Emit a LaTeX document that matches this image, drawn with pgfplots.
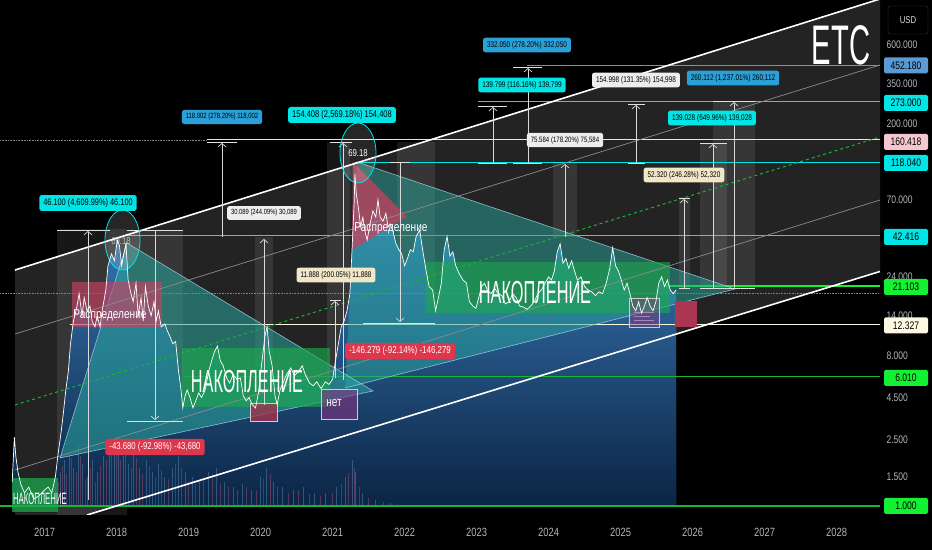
\documentclass[border=0pt]{standalone}
\usepackage{pgfplots}
\pgfplotsset{compat=1.18}
\usepackage{pgfplotstable}
\usepackage{fontspec}
\setmainfont{Liberation Sans}[FakeStretch=0.78]
\usetikzlibrary{arrows.meta,fadings}
\definecolor{bg}{HTML}{000000}
\definecolor{chan}{HTML}{232323}
\definecolor{tickc}{HTML}{B2B5BE}
\definecolor{lcyan}{HTML}{00E5E5}
\definecolor{lblue}{HTML}{2AA0D8}
\definecolor{tagblue}{HTML}{5B9BD5}
\definecolor{lred}{HTML}{E0364C}
\definecolor{lwhite}{HTML}{EDEDED}
\definecolor{lcream}{HTML}{F1E6C8}
\definecolor{tagpink}{HTML}{F6C6CF}
\definecolor{tagcream}{HTML}{FFF9E3}
\definecolor{lgreen}{HTML}{14F032}
\definecolor{dgreen}{HTML}{17B535}
\definecolor{tealc}{HTML}{2AA69C}
\definecolor{gfill}{HTML}{1CA84C}
\definecolor{rfill}{HTML}{C8405F}
\definecolor{areatop}{HTML}{3F86C8}
\definecolor{areabot}{HTML}{061A36}
\definecolor{edge}{HTML}{A8D8E8}
\definecolor{volb}{HTML}{5A8FC0}
\definecolor{volp}{HTML}{B0506E}

\pgfplotstableread{
year price
2016.55 1.40
2016.58 2.60
2016.60 2.00
2016.63 1.60
2016.67 1.35
2016.72 1.20
2016.78 1.30
2016.85 1.10
2016.92 1.15
2017.00 1.25
2017.05 1.30
2017.10 1.20
2017.15 1.50
2017.19 2.10
2017.23 2.80
2017.26 3.60
2017.29 4.80
2017.33 6.50
2017.36 9.50
2017.40 13.0
2017.45 16.0
2017.48 19.0
2017.52 14.0
2017.55 18.0
2017.59 15.0
2017.63 16.0
2017.66 13.0
2017.70 12.0
2017.73 14.0
2017.77 12.0
2017.80 15.0
2017.85 20.0
2017.88 28.0
2017.93 33.0
2017.97 30.0
2018.01 40.0
2018.04 37.0
2018.07 28.0
2018.10 33.0
2018.13 38.0
2018.16 23.0
2018.20 19.0
2018.23 17.0
2018.27 22.0
2018.30 14.0
2018.34 18.0
2018.37 13.0
2018.40 21.0
2018.44 16.0
2018.48 14.0
2018.52 17.0
2018.55 13.0
2018.58 15.0
2018.62 12.0
2018.67 12.5
2018.70 11.5
2018.74 10.5
2018.78 9.5
2018.82 9.8
2018.86 6.5
2018.89 5.2
2018.92 3.9
2018.95 4.6
2018.98 5.0
2019.02 4.5
2019.06 3.9
2019.10 4.3
2019.14 4.8
2019.18 4.5
2019.23 5.0
2019.28 6.5
2019.32 7.5
2019.36 8.5
2019.40 9.2
2019.44 7.5
2019.48 7.0
2019.53 5.9
2019.57 5.5
2019.62 6.2
2019.67 5.8
2019.72 5.9
2019.76 4.6
2019.80 4.3
2019.84 4.5
2019.88 4.1
2019.93 3.9
2019.97 4.8
2020.02 7.5
2020.06 10.5
2020.09 12.0
2020.12 8.5
2020.16 7.0
2020.20 4.6
2020.23 4.1
2020.27 5.0
2020.31 5.5
2020.36 6.2
2020.42 6.8
2020.47 6.1
2020.52 6.4
2020.58 7.0
2020.62 6.2
2020.68 5.5
2020.73 5.3
2020.78 5.6
2020.84 5.1
2020.90 5.6
2020.95 5.4
2021.00 5.8
2021.04 7.5
2021.08 9.5
2021.12 12.0
2021.16 13.0
2021.20 15.0
2021.24 19.0
2021.27 35.0
2021.30 68.0
2021.31 100.0
2021.33 75.0
2021.36 62.0
2021.39 48.0
2021.42 55.0
2021.45 45.0
2021.48 40.0
2021.52 50.0
2021.56 60.0
2021.60 55.0
2021.63 70.0
2021.66 55.0
2021.70 52.0
2021.74 58.0
2021.77 48.0
2021.80 50.0
2021.84 45.0
2021.88 38.0
2021.92 35.0
2021.96 33.0
2022.00 28.0
2022.04 31.0
2022.08 35.0
2022.12 34.0
2022.16 42.0
2022.21 46.0
2022.25 35.0
2022.30 26.0
2022.34 21.0
2022.39 20.0
2022.43 15.0
2022.47 18.0
2022.51 22.0
2022.55 35.0
2022.59 42.0
2022.63 32.0
2022.67 34.0
2022.71 28.0
2022.76 25.0
2022.81 23.0
2022.86 22.0
2022.90 17.0
2022.95 16.0
2022.99 15.5
2023.03 18.0
2023.07 21.0
2023.11 22.0
2023.15 20.0
2023.20 19.0
2023.25 20.5
2023.30 19.0
2023.35 18.5
2023.40 16.5
2023.45 17.0
2023.50 19.0
2023.55 18.0
2023.60 16.0
2023.65 15.8
2023.70 15.3
2023.75 16.0
2023.80 17.0
2023.85 19.0
2023.90 20.0
2023.95 22.0
2024.00 24.0
2024.04 23.0
2024.08 26.0
2024.12 34.0
2024.16 38.0
2024.20 29.0
2024.24 31.0
2024.28 27.0
2024.32 30.0
2024.36 26.0
2024.40 23.0
2024.45 24.0
2024.50 21.0
2024.55 20.0
2024.60 19.5
2024.65 18.5
2024.70 19.5
2024.75 19.0
2024.80 22.0
2024.85 27.0
2024.89 36.0
2024.93 28.0
2024.97 26.0
2025.01 23.0
2025.05 20.0
2025.09 22.0
2025.13 19.0
2025.17 16.0
2025.21 15.0
2025.25 17.0
2025.29 14.5
2025.33 16.0
2025.37 18.0
2025.41 16.0
2025.45 15.0
2025.49 17.0
2025.53 22.0
2025.57 24.0
2025.61 21.0
2025.65 23.0
2025.69 20.0
2025.73 19.0
2025.77 20.0
}\price

\pgfplotstableread{
year vol
2016.62 1.25
2016.70 1.10
2016.90 1.08
2017.05 1.15
2017.15 1.30
2017.22 1.60
2017.28 1.90
2017.34 2.10
2017.40 1.70
2017.47 2.30
2017.53 1.80
2017.60 1.50
2017.67 1.90
2017.74 1.60
2017.82 2.00
2017.90 2.40
2017.97 2.20
2018.03 2.60
2018.09 2.00
2018.16 1.80
2018.24 2.10
2018.32 1.70
2018.41 1.90
2018.50 1.60
2018.58 1.80
2018.67 1.50
2018.77 1.70
2018.86 2.00
2018.95 1.60
2019.05 1.50
2019.15 1.40
2019.27 1.60
2019.38 1.70
2019.50 1.40
2019.62 1.30
2019.75 1.35
2019.87 1.25
2020.00 1.50
2020.08 1.70
2020.18 1.40
2020.30 1.30
2020.45 1.25
2020.60 1.30
2020.75 1.20
2020.90 1.20
2021.05 1.30
2021.18 1.50
2021.27 1.90
2021.32 1.60
2021.42 1.20
2021.60 1.08
2021.80 1.04
2022.00 1.02
2022.40 1.01
2022.80 0.99
}\volblue

\pgfplotstableread{
year vol
2016.66 1.15
2016.80 1.05
2017.10 1.10
2017.19 1.40
2017.25 1.75
2017.31 1.55
2017.37 1.95
2017.44 1.60
2017.50 2.00
2017.57 1.45
2017.64 1.70
2017.71 1.40
2017.78 1.75
2017.86 1.90
2017.93 2.10
2018.00 2.30
2018.06 1.90
2018.12 2.20
2018.20 1.70
2018.28 1.95
2018.36 1.55
2018.45 1.75
2018.54 1.50
2018.62 1.65
2018.72 1.45
2018.82 1.80
2018.90 1.70
2019.00 1.40
2019.10 1.35
2019.21 1.45
2019.33 1.55
2019.44 1.35
2019.56 1.30
2019.68 1.25
2019.81 1.30
2019.94 1.25
2020.04 1.45
2020.13 1.55
2020.24 1.30
2020.38 1.20
2020.52 1.25
2020.68 1.18
2020.83 1.15
2021.00 1.20
2021.12 1.35
2021.22 1.55
2021.30 1.70
2021.37 1.30
2021.50 1.12
2021.70 1.05
2021.90 1.03
2022.20 1.01
}\volpink

\newcommand{\mlab}[5]{\node[fill=#1, text=#2, rounded corners=2.5bp, inner xsep=4bp, inner ysep=3.5bp,
  font=\fontsize{#3}{#3}\selectfont] at (#4) {#5};}
\newcommand{\rtag}[3]{\node[fill=#1, text=black, rounded corners=1.5bp, inner sep=0pt, minimum width=44bp,
  minimum height=16bp, font=\fontsize{11}{11}\selectfont] at (906,#2) {#3};}

\begin{document}
\begin{tikzpicture}
\useasboundingbox (0,0) rectangle (932bp,550bp);
\fill[bg] (0,0) rectangle (932bp,550bp);
\begin{scope}[x=1bp,y=-1bp,yshift=550bp]
  \begin{scope}
  \clip (0,0) rectangle (880,515);
  \fill[chan] (15,270) -- (880,-1) -- (880,271.5) -- (87,515) -- (15,515) -- cycle;
  \fill[white,opacity=0.09] (57,229) rectangle (127,515);
  \fill[white,opacity=0.09] (127,230) rectangle (183,421);
  \fill[white,opacity=0.09] (255,237) rectangle (273,405);
  \fill[white,opacity=0.09] (327,142) rectangle (350,380);
  \fill[white,opacity=0.09] (397,142) rectangle (435,325);
  \fill[white,opacity=0.09] (553,163) rectangle (577,237);
  \fill[white,opacity=0.09] (679,197) rectangle (690,288);
  \fill[white,opacity=0.09] (700,143) rectangle (727,288);
  \fill[white,opacity=0.09] (713,101) rectangle (755,288);
  \end{scope}
  \draw[rounded corners=3bp, draw=white!22!black, fill=bg] (888,6) rectangle (928,34);
  \node[text=white!85!black, font=\fontsize{10}{10}\selectfont] at (908,20) {USD};
\end{scope}

\begin{axis}[at={(0bp,35bp)}, anchor=south west, scale only axis,
  width=880bp, height=515bp, xmin=2016.3806, xmax=2028.6028,
  ymode=log, ymin=0.8827, ymax=1117.2, axis line style={draw=none},
  major tick length=0pt,
  xtick={2017,2018,2019,2020,2021,2022,2023,2024,2025,2026,2027,2028},
  xticklabels={2017,2018,2019,2020,2021,2022,2023,2024,2025,2026,2027,2028},
  xticklabel style={text=tickc, font=\fontsize{12}{12}\selectfont, anchor=center, yshift=-17bp},
  ytick={1.5,2.5,4.5,8,14,24,70,200,350,600},
  yticklabels={1.500,2.500,4.500,8.000,14.000,24.000,70.000,200.000,350.000,600.000},
  yticklabel pos=right,
  yticklabel style={text=tickc, font=\fontsize{11}{11}\selectfont, anchor=west, xshift=3bp},
  ]
  \addplot[draw=none, fill=areatop] table[x=year,y=price]{\price} \closedcycle;
  \addplot[draw=none, fill=areabot, fill opacity=0.9, path fading=north] table[x=year,y=price]{\price} \closedcycle;
  \addplot[ycomb, log origin=infty, volb, opacity=0.45, line width=0.9bp, mark=none] table[x=year,y=vol]{\volblue};
  \addplot[ycomb, log origin=infty, volp, opacity=0.45, line width=0.9bp, mark=none] table[x=year,y=vol]{\volpink};
  \addplot[gray, densely dotted, line width=0.6bp] coordinates {(2016.38,19.2) (2028.61,19.2)};
  \addplot[gray, densely dotted, line width=0.6bp] coordinates {(2016.38,160.418) (2019.26,160.418)};
  \addplot[tagblue, line width=1bp] coordinates {(2023.70,452.18) (2028.61,452.18)};
  \addplot[lcyan, line width=0.9bp] coordinates {(2023.02,273) (2028.61,273)};
  \addplot[tagpink!60!white, line width=1bp] coordinates {(2019.26,160.418) (2028.61,160.418)};
  \addplot[lcyan, line width=0.9bp] coordinates {(2021.31,118.04) (2028.61,118.04)};
  \addplot[lcyan, line width=0.9bp] coordinates {(2018.14,42.416) (2028.61,42.416)};
  \addplot[lgreen, line width=1.5bp] coordinates {(2025.59,21.103) (2028.61,21.103)};
  \addplot[tagcream, line width=1bp] coordinates {(2017.35,12.327) (2028.61,12.327)};
  \addplot[dgreen, line width=1bp] coordinates {(2018.95,6.010) (2028.61,6.010)};
  \addplot[dgreen, line width=1.2bp] coordinates {(2016.38,1.0) (2028.61,1.0)};
\end{axis}

\begin{scope}[x=1bp,y=-1bp,yshift=550bp]
  \begin{scope}
  \clip (0,0) rectangle (880,515);
  \fill[tealc, opacity=0.55] (127,243) -- (373,391) -- (60,458) -- cycle;
  \fill[tealc, opacity=0.5] (357,162) -- (735,289) -- (345,388) -- cycle;
  \draw[edge, line width=0.6bp, opacity=0.8] (127,243) -- (373,391) -- (60,458) -- cycle;
  \draw[edge, line width=0.6bp, opacity=0.8] (357,162) -- (735,289) -- (345,388);
  \fill[rfill, opacity=0.75] (353,162) -- (407,217) -- (352,250) -- cycle;
  \fill[gfill, opacity=0.65] (182,348) rectangle (330,407);
  \fill[gfill, opacity=0.6] (425,262) rectangle (670,313);
  \fill[gfill, opacity=0.75] (12,478) rectangle (58,512);
  \fill[rfill, opacity=0.65] (72,282) rectangle (162,327);
  \filldraw[fill=rfill!80!black, fill opacity=0.8, draw=white!80!black, line width=0.6bp] (250,403) rectangle (277,421);
  \filldraw[fill=violet!60!gray, fill opacity=0.6, draw=white!80!black, line width=0.6bp] (321,389) rectangle (357,419);
  \filldraw[fill=violet!50!gray, fill opacity=0.45, draw=white!80!black, line width=0.6bp] (629,298) rectangle (659,327);
  \draw[violet!40!white, line width=0.5bp, opacity=0.7] (634,312) -- (654,312) (634,316) -- (650,316) (634,320) -- (654,320);
  \fill[rfill!85!black] (675,301) rectangle (697,327);
  \draw[white, line width=1.6bp] (15,270) -- (880,-1);
  \draw[white, line width=1.6bp] (87,515) -- (880,271.5);
  \draw[white!55!black, line width=0.7bp] (15,334) -- (880,65);
  \draw[white!55!black, line width=0.7bp] (15,470) -- (880,200);
  \draw[dgreen, line width=1bp, dash pattern=on 3bp off 3bp] (15,405) -- (880,137);
  \begin{scope}[white!88!black, line width=0.8bp]
  \draw (57,230) -- (110,230);  \draw (127,230) -- (183,230);  \draw (127,421) -- (183,421);
  \draw (207,142) -- (237,142); \draw (330,142) -- (352,142);  \draw (330,300) -- (341,300);
  \draw (390,162) -- (410,162); \draw (363,323) -- (435,323);
  \draw (478,106) -- (507,106); \draw (478,163) -- (507,163);
  \draw (513,67) -- (542,67);   \draw (513,163) -- (542,163);
  \draw (628,104) -- (645,104); \draw (628,163) -- (645,163);
  \draw (679,198) -- (690,198); \draw (700,143) -- (727,143); \draw (713,101) -- (755,101);
  \draw (679,288) -- (690,288); \draw (700,288) -- (755,288);
  \end{scope}
  \begin{scope}[white!85!black, line width=0.7bp, -{Straight Barb[length=3.5bp,width=8bp]}]
  \draw (88,500) -- (88,231);
  \draw (155,231) -- (155,420);
  \draw (264,405) -- (264,239);
  \draw (222,237) -- (222,143);
  \draw (343,380) -- (343,143);
  \draw (335,378) -- (335,301);
  \draw (400,163) -- (400,322);
  \draw (493,163) -- (493,107);
  \draw (528,163) -- (528,68);
  \draw (565,237) -- (565,164);
  \draw (636,163) -- (636,105);
  \draw (684,288) -- (684,199);
  \draw (713,288) -- (713,144);
  \draw (734,288) -- (734,102);
  \end{scope}
  \filldraw[fill=white, fill opacity=0.15, draw=lcyan, line width=0.8bp] (122.5,240) ellipse (17.5 and 30);
  \filldraw[fill=white, fill opacity=0.15, draw=lcyan, line width=0.8bp] (358,153) ellipse (18 and 30);
  \end{scope}
\end{scope}

\begin{axis}[at={(0bp,35bp)}, anchor=south west, scale only axis,
  width=880bp, height=515bp, xmin=2016.3806, xmax=2028.6028,
  ymode=log, ymin=0.8827, ymax=1117.2, hide axis]
  \addplot[white, line width=0.7bp] table[x=year,y=price]{\price};
\end{axis}

\begin{scope}[x=1bp,y=-1bp,yshift=550bp]
  \mlab{lcyan}{black}{9.5}{88,203}{46.100 (4,609.99\%) 46.100}
  \mlab{lred}{white}{10}{155,447}{-43.680 (-92.98\%) -43,680}
  \mlab{lwhite}{black}{7.5}{264,213}{30.089 (244.09\%) 30,089}
  \mlab{lblue}{black}{7.6}{222,117}{118.002 (278.20\%) 118,002}
  \mlab{lcyan}{black}{9.7}{342,115}{154.408 (2,569.18\%) 154,408}
  \mlab{lcream}{black}{8.2}{336,275}{11.888 (200.05\%) 11,888}
  \mlab{lred}{white}{10.2}{400,351}{-146.279 (-92.14\%) -146,279}
  \mlab{lcyan}{black}{8.3}{522,85}{139.799 (116.16\%) 139,799}
  \mlab{lblue}{black}{8.3}{527,45}{332.050 (278.20\%) 332,050}
  \mlab{lwhite}{black}{7.8}{565,140}{75.584 (178.20\%) 75,584}
  \mlab{lwhite}{black}{8.3}{636,80}{154.998 (131.35\%) 154,998}
  \mlab{lcream}{black}{8.3}{684,175}{52.320 (246.28\%) 52,320}
  \mlab{lcyan}{black}{8.3}{712,118}{139.028 (649.96\%) 139,028}
  \mlab{lblue}{black}{8.3}{733,78}{260.112 (1,237.01\%) 260,112}
  \node[text=white, font=\fontsize{10}{10}\selectfont, opacity=0.6] at (121,241) {69.18};
  \node[text=white, font=\fontsize{10}{10}\selectfont] at (358,153) {69.18};
  \node[text=white, font=\fontsize{13}{13}\selectfont] at (110,315) {Распределение};
  \node[text=white, font=\fontsize{13}{13}\selectfont] at (391,228) {Распределение};
  \node[text=white, font=\fontsize{32}{32}\selectfont] at (247,382) {\scalebox{0.655}[1]{НАКОПЛЕНИЕ}};
  \node[text=white, font=\fontsize{32}{32}\selectfont] at (535,293) {\scalebox{0.655}[1]{НАКОПЛЕНИЕ}};
  \node[text=white, font=\fontsize{16.5}{16.5}\selectfont] at (40,499) {\scalebox{0.61}[1]{НАКОПЛЕНИЕ}};
  \node[text=white, font=\fontsize{13}{13}\selectfont] at (334,403) {нет};
  \node[text=white, font=\fontsize{56}{56}\selectfont] at (841,45) {\scalebox{0.67}[1]{ETC}};
  \rtag{tagblue}{65.5}{452.180}
  \rtag{lcyan}{103}{273.000}
  \rtag{tagpink}{142}{160.418}
  \rtag{lcyan}{163}{118.040}
  \rtag{lcyan}{237}{42.416}
  \rtag{lgreen}{287}{21.103}
  \rtag{tagcream}{325.5}{12.327}
  \rtag{lgreen}{378}{6.010}
  \rtag{lgreen}{506}{1.000}
\end{scope}
\end{tikzpicture}
\end{document}
